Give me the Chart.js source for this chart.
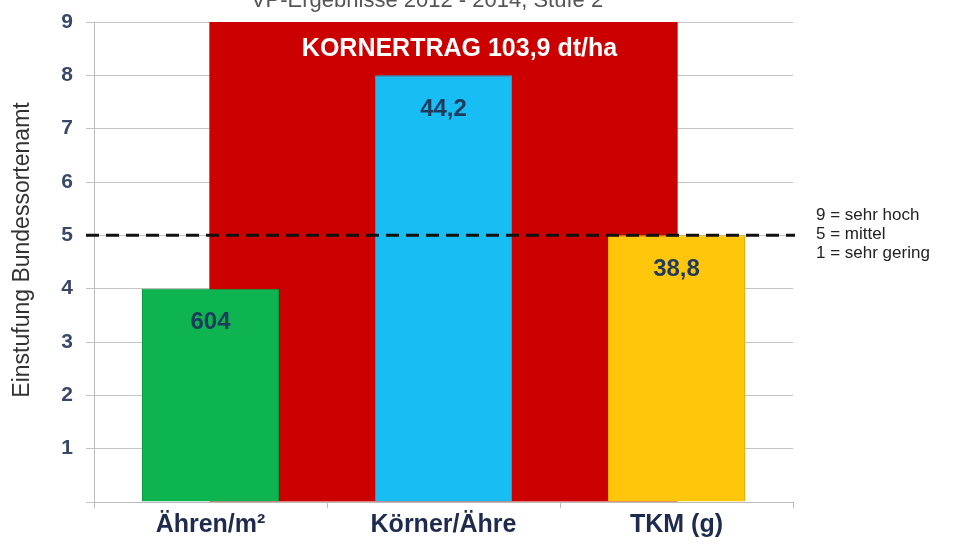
<!DOCTYPE html>
<html>
<head>
<meta charset="utf-8">
<script src="https://cdn.jsdelivr.net/npm/chart.js@4"></script>
<style>
html,body{margin:0;padding:0;background:#fff;}
#wrap{width:954px;height:549px;position:relative;}
</style>
</head>
<body>
<div id="wrap"><canvas id="c" width="954" height="549"></canvas></div>
<script>
// ---- data ----
const categories = ['Ähren/m²', 'Körner/Ähre', 'TKM (g)'];
const ratingValues = [4, 8, 5];
const valueLabels = ['604', '44,2', '38,8'];
const yieldRating = [9];
const yieldLabel = 'KORNERTRAG 103,9 dt/ha';
const yTickLabels = ['', '1', '2', '3', '4', '5', '6', '7', '8', '9'];
const referenceLevel = 5;
const scaleNotes = ['9 = sehr hoch', '5 = mittel', '1 = sehr gering'];
const topTitle = 'VP-Ergebnisse 2012 - 2014, Stufe 2';
const yTitle = 'Einstufung Bundessortenamt';

const barColors = ['#0DB450', '#17BDF3', '#FFC60B'];
const barEdges = ['#0A9A44', '#0FA6D8', '#E8B000'];
const redColor = '#CD0000';
const FONT = '"Liberation Sans", Arial, sans-serif';

const overlay = {
  id: 'overlay',
  afterDatasetsDraw(chart) {
    const ctx = chart.ctx;
    const y = chart.scales.y;
    const area = chart.chartArea;
    ctx.save();
    ctx.textAlign = 'center';
    ctx.textBaseline = 'middle';
    // red bar label
    const rb = chart.getDatasetMeta(1).data[0];
    ctx.font = 'bold 25px ' + FONT;
    ctx.fillStyle = '#FFFFFF';
    ctx.fillText(yieldLabel, rb.x + 16, rb.y + 27);
    // value labels
    const meta = chart.getDatasetMeta(0);
    ctx.font = 'bold 24px ' + FONT;
    ctx.fillStyle = '#1E3A5C';
    meta.data.forEach((bar, i) => {
      ctx.fillText(valueLabels[i], bar.x, bar.y + 34);
    });
    // dashed reference line
    const yy = y.getPixelForValue(referenceLevel);
    ctx.beginPath();
    ctx.setLineDash([13, 7]);
    ctx.lineWidth = 3;
    ctx.strokeStyle = '#111';
    ctx.moveTo(area.left - 8, yy);
    ctx.lineTo(area.right + 2, yy);
    ctx.stroke();
    ctx.setLineDash([]);
    // scale notes
    ctx.textAlign = 'left';
    ctx.font = '17px ' + FONT;
    ctx.fillStyle = '#222';
    scaleNotes.forEach((t, i) => {
      ctx.fillText(t, 816, 215 + i * 19);
    });
    // clipped top title
    ctx.textAlign = 'center';
    ctx.textBaseline = 'alphabetic';
    ctx.font = '22px ' + FONT;
    ctx.fillStyle = '#555';
    ctx.fillText(topTitle, 427, 7);
    // y title
    ctx.translate(23, 250);
    ctx.rotate(-Math.PI / 2);
    ctx.textAlign = 'center';
    ctx.textBaseline = 'middle';
    ctx.font = '23px ' + FONT;
    ctx.fillStyle = '#333';
    ctx.fillText(yTitle, 0, 0);
    ctx.restore();
  }
};

new Chart(document.getElementById('c'), {
  type: 'bar',
  data: {
    labels: categories,
    datasets: [
      {
        data: ratingValues,
        backgroundColor: barColors,
        borderColor: barEdges,
        borderWidth: 1,
        xAxisID: 'x',
        grouped: false,
        categoryPercentage: 1,
        barPercentage: 0.588
      },
      {
        data: yieldRating,
        backgroundColor: redColor,
        borderWidth: 0,
        xAxisID: 'x2',
        grouped: false,
        categoryPercentage: 1,
        barPercentage: 0.67
      }
    ]
  },
  options: {
    responsive: false,
    animation: false,
    layout: { padding: { top: 22, right: 161, left: 0, bottom: 0 } },
    plugins: { legend: { display: false }, tooltip: { enabled: false }, title: { display: false } },
    scales: {
      x: {
        type: 'category',
        offset: true,
        grid: { display: true, drawOnChartArea: false, drawTicks: true, tickLength: 6, color: '#BBBBBB', offset: true },
        border: { display: true, color: '#BBBBBB' },
        ticks: {
          color: '#1F2B4E',
          font: { family: FONT, size: 25, weight: 'bold' },
          padding: 2
        },
        afterFit(s) { s.height = 47; }
      },
      x2: {
        type: 'category',
        labels: [''],
        display: false,
        offset: true
      },
      y: {
        min: 0,
        max: 9,
        ticks: {
          stepSize: 1,
          color: '#3A4868',
          font: { family: FONT, size: 21, weight: 'bold', lineHeight: 1 },
          padding: 13,
          callback: (v, i) => yTickLabels[i]
        },
        grid: { color: '#C4C4C4', tickLength: 8 },
        border: { display: true, color: '#BBBBBB' },
        afterFit(s) { s.width = 94; s.paddingTop = 0; s.paddingBottom = 0; }
      }
    }
  },
  plugins: [overlay]
});
</script>
</body>
</html>
